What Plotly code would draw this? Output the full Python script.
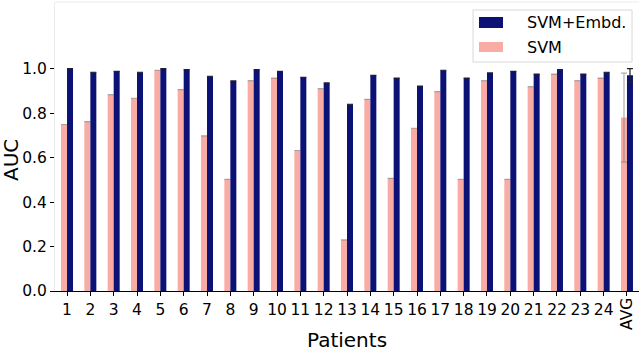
import plotly.graph_objects as go

categories = [str(i) for i in range(1, 25)] + ["AVG"]
svm_embd = [1.000, 0.984, 0.988, 0.984, 1.000, 0.996, 0.966, 0.945, 0.996, 0.988,
            0.961, 0.936, 0.840, 0.970, 0.958, 0.922, 0.993, 0.958, 0.981, 0.988,
            0.976, 0.996, 0.976, 0.984, 0.970]
svm = [0.749, 0.762, 0.883, 0.867, 0.993, 0.906, 0.698, 0.502, 0.946, 0.958,
       0.632, 0.910, 0.230, 0.862, 0.507, 0.732, 0.897, 0.502, 0.946, 0.502,
       0.919, 0.976, 0.946, 0.958, 0.780]
svm_embd_err = [None] * 24 + [0.03]
svm_err = [None] * 24 + [0.20]
y_ticks = [0.0, 0.2, 0.4, 0.6, 0.8, 1.0]

NAVY = "#0c1275"
PINK = "#f9aca3"
W, H = 640, 350
L, R, T, B = 55, 1, 2, 59
PW, PH = W - L - R, H - T - B


def px(x):
    return (x - L) / PW


def py(y):
    return (H - B - y) / PH


fig = go.Figure()
fig.add_trace(go.Bar(x=categories, y=svm, name="SVM", marker=dict(color=PINK, line=dict(width=0)),
                     error_y=dict(type="data", array=svm_err, color="rgba(120,120,120,0.6)",
                                  thickness=1.2, width=3)))
fig.add_trace(go.Bar(x=categories, y=svm_embd, name="SVM+Embd.", marker=dict(color=NAVY, line=dict(width=0)),
                     error_y=dict(type="data", array=svm_embd_err, color="#222222",
                                  thickness=1.2, width=3)))

font = "DejaVu Sans"
fig.update_layout(
    width=W, height=H,
    margin=dict(l=L, r=R, t=T, b=B, autoexpand=False),
    barmode="group", bargap=0.486, bargroupgap=0,
    plot_bgcolor="white", paper_bgcolor="white",
    showlegend=False,
    font=dict(family=font, color="black", size=15),
    xaxis=dict(type="category", range=[-0.515, 24.515], showline=True, linecolor="black",
               linewidth=1.2, ticks="outside", ticklen=4, tickcolor="black",
               tickvals=categories, ticktext=categories[:24] + [""], automargin=False,
               tickfont=dict(size=15.5), showgrid=False, zeroline=False),
    yaxis=dict(range=[0, 1.3], tickvals=y_ticks, tickformat=".1f", showline=True,
               linecolor="#ebebeb", linewidth=1, ticks="outside", ticklen=4, automargin=False,
               tickcolor="black", tickfont=dict(size=15.5), showgrid=False, zeroline=False),
)

# top frame line
fig.add_shape(type="line", xref="paper", yref="paper", x0=0, x1=1, y0=1, y1=1,
              line=dict(color="#ebebeb", width=1))

# rotated AVG tick label
fig.add_annotation(x="AVG", y=0, xref="x", yref="y", text="AVG", textangle=-90,
                   showarrow=False, yanchor="top", yshift=-5, font=dict(size=15.5))

# axis titles
fig.add_annotation(x=0.5, y=py(340), xref="paper", yref="paper", text="Patients",
                   showarrow=False, yanchor="middle", font=dict(size=20))
fig.add_annotation(x=px(11), y=py(160), xref="paper", yref="paper", text="AUC",
                   textangle=-90, showarrow=False, xanchor="center", yanchor="middle",
                   font=dict(size=20))

# custom legend
fig.add_shape(type="rect", xref="paper", yref="paper", x0=px(473), x1=px(632),
              y0=py(62), y1=py(10), line=dict(color="#d8d8d8", width=1),
              fillcolor="rgba(255,255,255,0.8)")
fig.add_shape(type="rect", xref="paper", yref="paper", x0=px(479), x1=px(503),
              y0=py(28), y1=py(17), line=dict(width=0), fillcolor=NAVY)
fig.add_shape(type="rect", xref="paper", yref="paper", x0=px(479), x1=px(503),
              y0=py(52), y1=py(42), line=dict(width=0), fillcolor=PINK)
fig.add_annotation(x=px(525), y=py(22.5), xref="paper", yref="paper", text="SVM+Embd.",
                   showarrow=False, xanchor="left", yanchor="middle", font=dict(size=16))
fig.add_annotation(x=px(525), y=py(47), xref="paper", yref="paper", text="SVM",
                   showarrow=False, xanchor="left", yanchor="middle", font=dict(size=16))

fig.write_html("out.html", config={"displayModeBar": False},
               post_script="document.body.style.margin='0';")
